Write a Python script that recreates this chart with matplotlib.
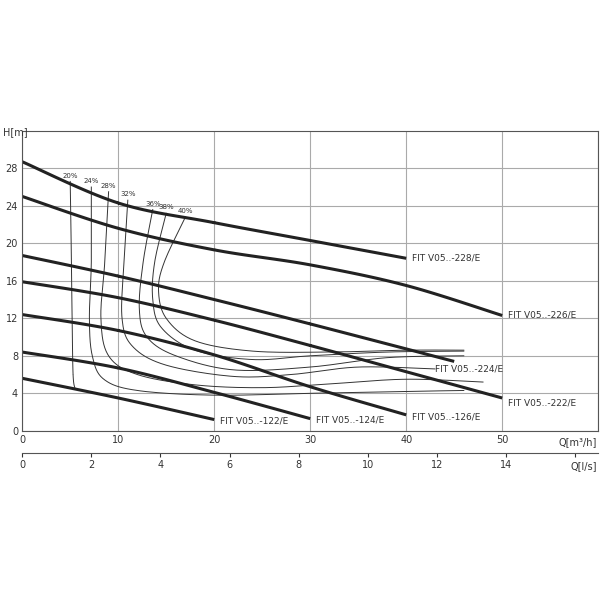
import numpy as np
import matplotlib.pyplot as plt

# Pump curves: flow Q [m3/h] and head H [m]
PUMPS = ["FIT V05..-228/E", "FIT V05..-226/E", "FIT V05..-224/E", "FIT V05..-222/E",
         "FIT V05..-126/E", "FIT V05..-124/E", "FIT V05..-122/E"]
PUMP_Q = [[0, 10, 20, 30, 40], [0, 10, 20, 30, 40, 50], [0, 10, 20, 30, 45],
          [0, 10, 20, 30, 40, 50], [0, 10, 20, 30, 40], [0, 10, 20, 30], [0, 10, 20]]
PUMP_H = [[28.7, 24.3, 22.2, 20.3, 18.4], [25.0, 21.6, 19.3, 17.7, 15.5, 12.3],
          [18.7, 16.5, 14.0, 11.4, 7.4], [15.9, 14.2, 11.8, 9.1, 6.3, 3.5],
          [12.4, 10.7, 8.1, 4.7, 1.7], [8.4, 6.7, 4.1, 1.3], [5.6, 3.5, 1.2]]

# Efficiency iso-lines
EFF_LABELS = ["20%", "24%", "28%", "32%", "36%", "38%", "40%"]
EFF_Q = [[5.0, 5.1, 5.2, 5.3, 5.5],
         [7.2, 7.2, 7.0, 7.3, 8.5, 12, 20, 30, 40, 46],
         [9.0, 8.6, 8.2, 9.0, 12, 18, 25, 32, 40, 48],
         [11.0, 10.6, 10.4, 11.5, 15, 22, 28, 35, 43],
         [13.6, 12.6, 12.2, 13.0, 16, 22, 30, 38, 46],
         [15.0, 13.8, 13.6, 14.5, 18, 24, 30, 38, 46],
         [17.0, 14.8, 14.2, 15.0, 18, 24, 32, 40, 46]]
EFF_H = [[26.6, 20, 12, 6, 4.5],
         [26.0, 18, 12, 8, 5.5, 4.3, 3.8, 4.0, 4.2, 4.3],
         [25.5, 18, 12, 8, 6.0, 4.9, 4.6, 5.0, 5.5, 5.2],
         [24.6, 18, 12, 9, 7.0, 5.8, 6.0, 6.8, 6.6],
         [23.6, 18, 13, 10, 8.0, 6.5, 6.8, 7.8, 8.0],
         [23.2, 18, 14, 11, 8.6, 7.6, 8.0, 8.4, 8.5],
         [22.8, 18, 15, 12, 9.6, 8.5, 8.4, 8.6, 8.6]]

# label offsets (dQ, dH) from curve end
LABEL_OFFSET = [(0.6, 0), (0.6, 0), (-2.0, -0.8), (0.6, -0.5), (0.6, -0.2), (0.6, -0.1), (0.6, -0.2)]


def smooth(xs, ys, n=20):
    # Catmull-Rom through the read points
    p = np.column_stack([xs, ys]).astype(float)
    p = np.vstack([p[0], p, p[-1]])
    out = []
    for i in range(1, len(p) - 2):
        t = np.linspace(0, 1, n)[:, None]
        p0, p1, p2, p3 = p[i - 1], p[i], p[i + 1], p[i + 2]
        out.append(0.5 * (2 * p1 + (-p0 + p2) * t + (2 * p0 - 5 * p1 + 4 * p2 - p3) * t**2
                          + (-p0 + 3 * p1 - 3 * p2 + p3) * t**3))
    out = np.vstack(out)
    return out[:, 0], out[:, 1]


fig = plt.figure(figsize=(6, 6), dpi=100)
ax = fig.add_axes([0.037, 0.282, 0.96, 0.5])
ax.set_xlim(0, 60)
ax.set_ylim(0, 32)
ax.set_xticks(range(0, 61, 10))
ax.set_xticklabels(["0", "10", "20", "30", "40", "50", ""])
ax.set_yticks(range(0, 29, 4))
ax.grid(color="#aaaaaa", lw=0.8)
ax.tick_params(length=0, labelsize=7, colors="#333333", pad=3)
for s in ax.spines.values():
    s.set_color("#555555")

for q, h in zip(EFF_Q, EFF_H):
    x, y = smooth(q, h)
    ax.plot(x, y, color="#333333", lw=0.7)
for lab, q, h in zip(EFF_LABELS, EFF_Q, EFF_H):
    ax.text(q[0], h[0] + 0.3, lab, fontsize=5, ha="center", va="bottom", color="#333333")

for name, q, h, off in zip(PUMPS, PUMP_Q, PUMP_H, LABEL_OFFSET):
    x, y = smooth(q, h)
    ax.plot(x, y, color="#222222", lw=2.2, solid_capstyle="butt")
    ax.text(q[-1] + off[0], h[-1] + off[1], name, fontsize=6.5, va="center",
            color="#333333")

fig.text(0.005, 0.775, "H[m]", fontsize=7, color="#333333")
fig.text(0.995, 0.258, "Q[m³/h]", fontsize=7, ha="right", color="#333333")

ax2 = fig.add_axes([0.037, 0.245, 0.96, 0.001])
ax2.set_xlim(0, 60 / 3.6)
ax2.set_xticks(range(0, 17, 2))
ax2.set_xticklabels([str(v) for v in range(0, 15, 2)] + [""])
ax2.set_yticks([])
for k in ["top", "left", "right"]:
    ax2.spines[k].set_visible(False)
ax2.spines["bottom"].set_color("#555555")
ax2.tick_params(length=3, labelsize=7, colors="#333333", pad=2)
fig.text(0.995, 0.218, "Q[l/s]", fontsize=7, ha="right", color="#333333")

fig.savefig("out.png")
